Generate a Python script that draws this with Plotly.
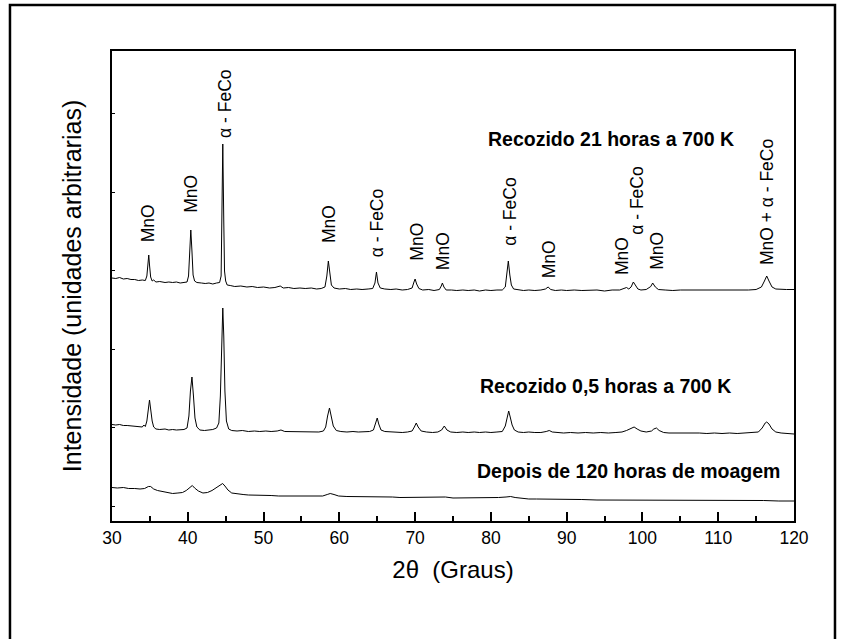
import plotly.graph_objects as go

# ---------------- data ----------------
# 2-theta (degrees) and intensity (arbitrary units, stacked traces)
theta_21h = [30.0, 30.5, 31.0, 31.5, 32.0, 32.5, 33.0, 33.5, 34.0, 34.4, 34.6, 34.75, 34.85, 34.95, 35.1, 35.3, 35.5, 35.8,
             36.3, 37.0, 37.5, 38.0, 38.5, 39.0, 39.5, 39.9, 40.1, 40.25, 40.4, 40.55, 40.7, 40.9, 41.2, 41.8, 42.3, 42.8,
             43.3, 43.8, 44.2, 44.4, 44.5, 44.62, 44.75, 44.85, 45.0, 45.2, 45.6, 46.2, 47.0, 47.8, 48.5, 49.2, 50.0, 50.8,
             51.5, 52.2, 52.6, 53.3, 54.0, 54.8, 55.5, 56.3, 57.0, 57.6, 58.1, 58.35, 58.55, 58.75, 58.95, 59.3, 60.0, 60.8,
             61.5, 62.3, 63.0, 63.8, 64.4, 64.7, 64.9, 65.1, 65.4, 66.0, 66.8, 67.5, 68.3, 69.0, 69.6, 69.85, 70.0, 70.2,
             70.5, 71.0, 71.8, 72.5, 73.2, 73.45, 73.6, 73.8, 74.1, 74.8, 75.5, 76.3, 77.0, 77.8, 78.5, 79.3, 80.0, 80.8,
             81.5, 81.9, 82.1, 82.3, 82.5, 82.7, 83.0, 83.6, 84.3, 85.0, 85.8, 86.6, 87.2, 87.55, 87.9, 88.5, 89.3, 90.0,
             91.0, 92.0, 93.0, 94.0, 95.0, 96.0, 97.0, 97.6, 97.9, 98.2, 98.5, 98.8, 99.1, 99.4, 99.8, 100.5, 101.1, 101.35,
             101.7, 102.1, 103.0, 104.0, 105.0, 106.0, 107.0, 108.0, 109.0, 110.0, 111.0, 112.0, 113.0, 114.0, 115.0, 115.7,
             116.1, 116.4, 116.7, 117.1, 117.6, 118.3, 119.0, 120.0]
int_21h = [243, 242.5, 243.5, 242, 242.5, 241.5, 241.5, 240.5, 241, 240.5, 245, 258, 266, 256, 244, 240, 241, 239,
           239.5, 238.5, 239, 238.5, 239, 238, 238.5, 239, 245, 268, 291, 270, 246, 240, 238.5, 238, 237.5, 238,
           237, 238, 238.5, 245, 290, 377, 300, 250, 240, 236, 235.5, 234.5, 235, 234, 234.5, 233.5, 234, 233,
           233.5, 235, 233, 233.5, 232.5, 233, 232.5, 233, 232, 232.5, 234, 245, 260, 246, 236, 233, 232, 232.5,
           231.5, 232, 231.5, 232, 232.5, 238, 249, 238, 233, 232, 231.5, 232, 231, 231.5, 233, 239, 242, 237,
           232.5, 231, 231.5, 230.5, 231.5, 235, 238, 234, 231, 231, 230.5, 231, 230.5, 231, 230, 231, 230.5, 231,
           231, 234, 245, 260, 246, 236, 232, 231, 230.5, 231, 230.5, 231, 232, 234, 231.5, 230.5, 231, 230.5,
           231, 230.5, 230.5, 231, 230, 231, 231, 232.5, 233.5, 232, 234, 239, 235, 232, 231, 231.5, 234.5, 238,
           234, 231.5, 231, 230.5, 231, 231, 230.5, 231, 230.5, 231, 231, 230.5, 231, 231, 231.5, 234,
           240, 245, 240, 234, 232, 231.5, 231.5, 231.5]

theta_05h = [30.0, 30.5, 31.0, 31.5, 32.0, 32.5, 33.0, 33.5, 34.0, 34.2, 34.4, 34.6, 34.8, 34.95, 35.1, 35.3, 35.5, 35.8,
             36.3, 37.0, 37.5, 38.0, 38.5, 39.0, 39.5, 39.9, 40.15, 40.35, 40.55, 40.75, 40.95, 41.2, 41.6, 42.2, 42.8,
             43.3, 43.8, 44.1, 44.3, 44.5, 44.62, 44.75, 44.9, 45.1, 45.4, 45.8, 46.5, 47.2, 48.0, 48.8, 49.5, 50.3,
             51.0, 51.8, 52.3, 52.8, 53.5, 54.3, 55.0, 55.8, 56.5, 57.3, 57.9, 58.2, 58.45, 58.7, 58.95, 59.2, 59.6,
             60.2, 61.0, 61.8, 62.5, 63.3, 64.0, 64.5, 64.8, 65.0, 65.2, 65.5, 66.0, 66.8, 67.5, 68.3, 69.0, 69.6, 69.9,
             70.15, 70.4, 70.8, 71.5, 72.3, 73.0, 73.5, 73.85, 74.2, 74.7, 75.5, 76.3, 77.0, 77.8, 78.5, 79.3, 80.0,
             80.8, 81.5, 81.9, 82.15, 82.35, 82.55, 82.8, 83.1, 83.6, 84.3, 85.0, 85.8, 86.6, 87.3, 87.7, 88.1, 88.8,
             89.6, 90.5, 91.5, 92.5, 93.5, 94.5, 95.5, 96.5, 97.3, 97.9, 98.4, 98.9, 99.3, 99.8, 100.5, 101.2, 101.5,
             101.85, 102.2, 102.8, 103.5, 104.5, 105.5, 106.5, 107.5, 108.5, 109.5, 110.5, 111.5, 112.5, 113.5, 114.5,
             115.3, 115.8, 116.2, 116.4, 116.7, 117.1, 117.6, 118.3, 119.0, 119.5, 120.0]
int_05h = [96.5, 96, 96.5, 95.5, 95.5, 95, 95, 94.5, 94, 96, 94.5, 100, 113, 121, 112, 100, 94, 92,
           91.5, 92, 91, 91.5, 91, 91, 91.5, 93, 105, 130, 144, 125, 103, 94, 91, 90.5, 91,
           91.5, 93, 98, 125, 190, 213, 185, 130, 100, 92, 90.5, 90, 90.5, 89.5, 90, 89.5, 90,
           89.5, 90, 91, 89.5, 89.5, 89, 89.5, 89, 89.5, 89, 90, 94, 105, 113, 104, 95, 90.5,
           89.5, 89, 89.5, 89, 89, 89.5, 91, 99, 103, 97, 91, 89.5, 89, 89, 88.5, 89, 90, 94,
           98, 94, 90, 89, 88.5, 89, 91, 95, 91, 89, 88.5, 89, 88.5, 89, 88.5, 89, 88.5,
           89, 89.5, 95, 104, 110, 104, 96, 91, 89, 88.5, 89, 88.5, 88.5, 89.5, 90.5, 89, 88.5,
           88, 88.5, 88, 88.5, 88, 88.5, 88, 88.5, 89, 90.5, 92, 94, 92, 90, 89, 90, 92,
           93, 90.5, 88.5, 88, 88, 88.5, 88, 88, 87.5, 88, 87.5, 88, 87.5, 88, 88,
           89, 93, 98, 99, 97, 92, 89, 88, 87.5, 87, 87]

theta_120h = [30.0, 30.7, 31.5, 32.2, 33.0, 33.7, 34.3, 34.8, 35.1, 35.5, 36.0, 36.6, 37.3, 38.0, 38.7, 39.3, 39.8,
              40.3, 40.6, 40.9, 41.4, 42.0, 42.6, 43.2, 43.8, 44.3, 44.6, 44.9, 45.3, 45.8, 46.5, 47.3, 48.0, 49.0,
              50.0, 51.0, 52.0, 53.0, 54.0, 55.0, 56.0, 57.0, 57.8, 58.4, 58.8, 59.3, 59.9, 61.0, 62.0, 63.0, 64.0,
              65.0, 66.0, 67.0, 68.0, 69.0, 70.0, 71.0, 72.0, 73.0, 74.0, 75.0, 76.0, 77.0, 78.0, 79.0, 80.0, 81.0,
              82.0, 82.6, 83.2, 84.0, 85.0, 86.0, 87.0, 88.0, 89.0, 90.0, 92.0, 94.0, 96.0, 98.0, 100.0, 102.0,
              104.0, 106.0, 108.0, 110.0, 112.0, 114.0, 116.0, 118.0, 120.0]
int_120h = [33.5, 33, 33.5, 32.5, 32.5, 32, 32.5, 34.5, 34.5, 32, 30.5, 29.5, 28.5, 27.5, 28, 28.5, 30.5,
            34, 35.5, 33, 30, 28, 28.5, 30.5, 33.5, 36.5, 37.5, 35, 31, 28, 27, 26.5, 26, 26,
            25.5, 25.5, 25, 25, 24.5, 24.5, 24.5, 24.5, 25, 26.5, 27.5, 26.5, 25, 24.5, 24.5, 24, 24,
            24.5, 24, 24, 23.5, 23.5, 24, 23.5, 23.5, 23.5, 24, 23, 23, 23, 23, 23, 23, 23.5,
            24, 24.5, 23.5, 22.5, 22, 22, 22, 21.5, 21.5, 21.5, 21.5, 21, 21, 21, 21, 21,
            20.5, 20.5, 20.5, 20.5, 20.5, 20.5, 20.5, 20, 20]

# peak labels: text, 2-theta position, intensity level of label base
peak_labels = ["MnO", "MnO", "α - FeCo", "MnO", "α - FeCo", "MnO", "MnO", "α - FeCo", "MnO", "MnO",
               "α - FeCo", "MnO", "MnO + α - FeCo"]
peak_label_x = [34.8, 40.4, 44.9, 58.65, 65.0, 70.2, 73.7, 82.5, 87.7, 97.3, 99.25, 101.9, 116.45]
peak_label_y = [277, 306, 381, 276, 262, 258, 249, 273, 241, 244, 284, 249, 254]

# sample labels
sample_labels = ["Recozido 21 horas a 700 K", "Recozido 0,5 horas a 700 K", "Depois de 120 horas de moagem"]
sample_label_x = [95.85, 95.1, 98.2]
sample_label_y = [382, 135.5, 50]

x_title = "2θ  (Graus)"
y_title = "Intensidade (unidades arbitrarias)"

FONT = "Arial, Liberation Sans, Helvetica, sans-serif"

fig = go.Figure()
for xs, ys, name in [(theta_120h, int_120h, sample_labels[2]),
                     (theta_05h, int_05h, sample_labels[1]),
                     (theta_21h, int_21h, sample_labels[0])]:
    fig.add_trace(go.Scatter(x=xs, y=ys, mode="lines", name=name,
                             line=dict(color="black", width=1), showlegend=False))

annotations = []
for t, x, y in zip(peak_labels, peak_label_x, peak_label_y):
    annotations.append(dict(text=t, x=x, y=y, xref="x", yref="y", textangle=-90,
                            xanchor="center", yanchor="bottom", showarrow=False,
                            font=dict(family=FONT, size=17.5, color="black")))
for t, x, y in zip(sample_labels, sample_label_x, sample_label_y):
    annotations.append(dict(text="<b>" + t + "</b>", x=x, y=y, xref="x", yref="y",
                            xanchor="center", yanchor="middle", showarrow=False,
                            font=dict(family=FONT, size=19.5, color="black")))

# outer frame (left, top and right sides; the bottom runs off the page)
frame_path = "M -0.1496,-0.5 L -0.1496,1.0979 L 1.0601,1.0979 L 1.0601,-0.5"

fig.update_layout(
    width=845, height=639,
    margin=dict(l=112, r=51, t=51, b=118, autoexpand=False),
    paper_bgcolor="white", plot_bgcolor="white",
    font=dict(family=FONT, color="black"),
    annotations=annotations,
    shapes=[dict(type="path", xref="paper", yref="paper", path=frame_path,
                 line=dict(color="black", width=2.5), layer="above")],
    xaxis=dict(range=[30, 120], tick0=30, dtick=10, ticks="inside", ticklen=9, tickwidth=1.5,
               tickcolor="black", showline=True, linecolor="black", linewidth=1.5, mirror=True,
               showgrid=False, zeroline=False,
               minor=dict(dtick=5, ticks="inside", ticklen=5, tickwidth=1.5, tickcolor="black", showgrid=False),
               tickfont=dict(family=FONT, size=17.5, color="black"),
               title=dict(text=x_title, font=dict(family=FONT, size=24, color="black"), standoff=14)),
    yaxis=dict(range=[0, 470], tick0=15, dtick=78.5, ticks="inside", ticklen=3, tickwidth=1,
               tickcolor="black", showticklabels=False, showline=True, linecolor="black",
               linewidth=1.5, mirror=True, showgrid=False, zeroline=False,
               title=dict(text=y_title, font=dict(family=FONT, size=25, color="black"), standoff=22)),
)

fig.write_html("out.html")
